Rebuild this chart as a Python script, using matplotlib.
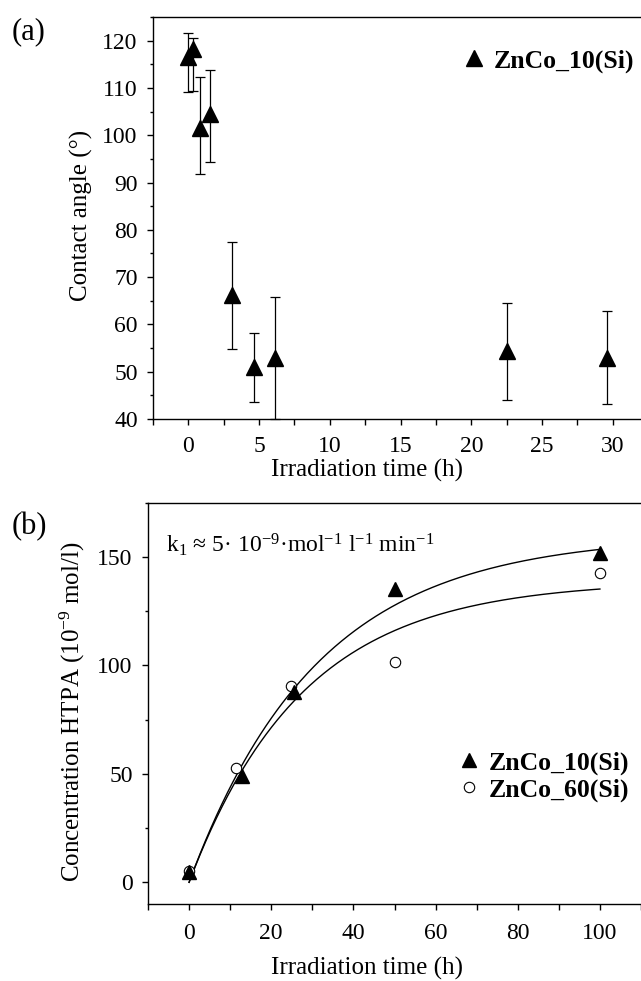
import numpy as np
import matplotlib
matplotlib.use("Agg")
import matplotlib.pyplot as plt
from matplotlib.ticker import MultipleLocator

plt.rcParams["font.family"] = ["Liberation Serif", "DejaVu Serif"]
plt.rcParams["mathtext.fontset"] = "custom"
plt.rcParams["mathtext.rm"] = "Liberation Serif"
plt.rcParams["mathtext.it"] = "Liberation Serif:italic"
plt.rcParams["mathtext.bf"] = "Liberation Serif:bold"

# ---- (a) contact angle vs irradiation time ----
time_a = [0.0, 0.35, 0.85, 1.5, 3.1, 4.65, 6.1, 22.5, 29.6]
angle_a = [116.5, 118.2, 101.5, 104.4, 66.2, 51.1, 53.0, 54.4, 53.0]
angle_hi = [121.6, 120.6, 112.4, 113.8, 77.5, 58.1, 65.7, 64.6, 62.8]
angle_lo = [109.1, 109.3, 91.7, 94.3, 54.9, 43.7, 40.0, 44.0, 43.1]
label_a = "ZnCo_10(Si)"

# ---- (b) HTPA concentration vs irradiation time ----
time_10 = [0.0, 13.0, 25.5, 50.0, 100.0]
conc_10 = [4.6, 48.8, 87.6, 135.4, 151.8]
time_60 = [0.0, 11.3, 24.9, 50.0, 100.0]
conc_60 = [5.0, 52.6, 90.3, 101.5, 142.8]
labels_b = ["ZnCo_10(Si)", "ZnCo_60(Si)"]

# first-order kinetic fits  c(t) = cmax * (1 - exp(-k t))
fit_10 = (160.0, 0.032)
fit_60 = (139.0, 0.036)

W, H = 641, 981
fig = plt.figure(figsize=(W / 100, H / 100), dpi=100)


def style_axes(ax):
    ax.spines["right"].set_visible(False)
    for s in ("left", "bottom", "top"):
        ax.spines[s].set_linewidth(1.0)
    ax.tick_params(axis="both", which="both", direction="out", top=False,
                   right=False, width=1.0, labelsize=17)
    ax.tick_params(axis="x", which="both", length=4)
    ax.tick_params(axis="y", which="major", length=4)
    ax.tick_params(axis="y", which="minor", length=2.2)


# panel (a)
ax1 = fig.add_axes([153 / W, 1 - 419 / H, 1 - 153 / W, (419 - 17) / H])
style_axes(ax1)
y = np.array(angle_a)
yerr = np.vstack([y - np.array(angle_lo), np.array(angle_hi) - y])
ax1.errorbar(time_a, angle_a, yerr=yerr, fmt="^", color="black", ms=11,
             ecolor="black", elinewidth=0.9, capsize=3.3, capthick=0.9,
             label=label_a, clip_on=False, zorder=3)
ax1.set_xlim(-2.5, 32)
ax1.set_ylim(40, 125)
ax1.xaxis.set_major_locator(MultipleLocator(5))
ax1.xaxis.set_minor_locator(MultipleLocator(2.5))
ax1.yaxis.set_major_locator(MultipleLocator(10))
ax1.yaxis.set_minor_locator(MultipleLocator(5))
ax1.tick_params(axis="x", pad=8)
ax1.tick_params(axis="y", pad=7)
ax1.set_xlabel("Irradiation time (h)", fontsize=18)
ax1.set_ylabel("Contact angle (°)", fontsize=18)
ax1.xaxis.set_label_coords((367 - 153) / (W - 153), -(459 - 419) / (419 - 17))
ax1.yaxis.set_label_coords(-(153 - 93) / (W - 153), (419 - 215) / (419 - 17))
h, l = ax1.get_legend_handles_labels()
ax1.legend([h[0][0]], [l[0]], loc="center left", frameon=False,
           bbox_to_anchor=(462.5 / W, 1 - 61 / H),
           bbox_transform=fig.transFigure, borderpad=0,
           borderaxespad=0, handlelength=0.9, handletextpad=0.3,
           prop={"weight": "bold", "size": 18.5})
fig.text(12 / W, 1 - 32 / H, "(a)", fontsize=22, va="center", ha="left")

# panel (b)
ax2 = fig.add_axes([148 / W, 1 - 904 / H, 1 - 148 / W, (904 - 502.7) / H])
style_axes(ax2)
tt = np.linspace(0, 100, 300)
ax2.plot(tt, fit_10[0] * (1 - np.exp(-fit_10[1] * tt)), color="black", lw=1.0)
ax2.plot(tt, fit_60[0] * (1 - np.exp(-fit_60[1] * tt)), color="black", lw=1.0)
ax2.plot(time_10, conc_10, "^", color="black", ms=10.5, label=labels_b[0],
         zorder=3)
ax2.plot(time_60, conc_60, "o", mfc="white", mec="black", mew=0.8, ms=7.5,
         label=labels_b[1], zorder=2)
ax2.set_xlim(-10, 110)
ax2.set_ylim(-10, 175)
ax2.xaxis.set_major_locator(MultipleLocator(20))
ax2.xaxis.set_minor_locator(MultipleLocator(10))
ax2.yaxis.set_major_locator(MultipleLocator(50))
ax2.yaxis.set_minor_locator(MultipleLocator(25))
ax2.tick_params(axis="x", pad=10)
ax2.tick_params(axis="y", pad=7)
ax2.set_xlabel("Irradiation time (h)", fontsize=18)
ax2.set_ylabel("Concentration HTPA (10$^{-9}$ mol/l)", fontsize=18)
ax2.xaxis.set_label_coords((367 - 148) / (W - 148), -(957 - 904) / (904 - 502.7))
ax2.yaxis.set_label_coords(-(148 - 87) / (W - 148), (904 - 712) / (904 - 502.7))
ax2.legend(loc="center left", frameon=False,
           bbox_to_anchor=(457 / W, 1 - 776.5 / H),
           bbox_transform=fig.transFigure, borderpad=0, borderaxespad=0,
           handlelength=0.9, handletextpad=0.33, labelspacing=0.15,
           prop={"weight": "bold", "size": 18.5})
ax2.text(166 / W, 1 - 545 / H,
         "k$_1$ ≈ 5· 10$^{-9}$·mol$^{-1}$ l$^{-1}$ min$^{-1}$",
         transform=fig.transFigure, fontsize=17, va="center", ha="left")
fig.text(12 / W, 1 - 527 / H, "(b)", fontsize=22, va="center", ha="left")

fig.savefig("out.png", dpi=100)
